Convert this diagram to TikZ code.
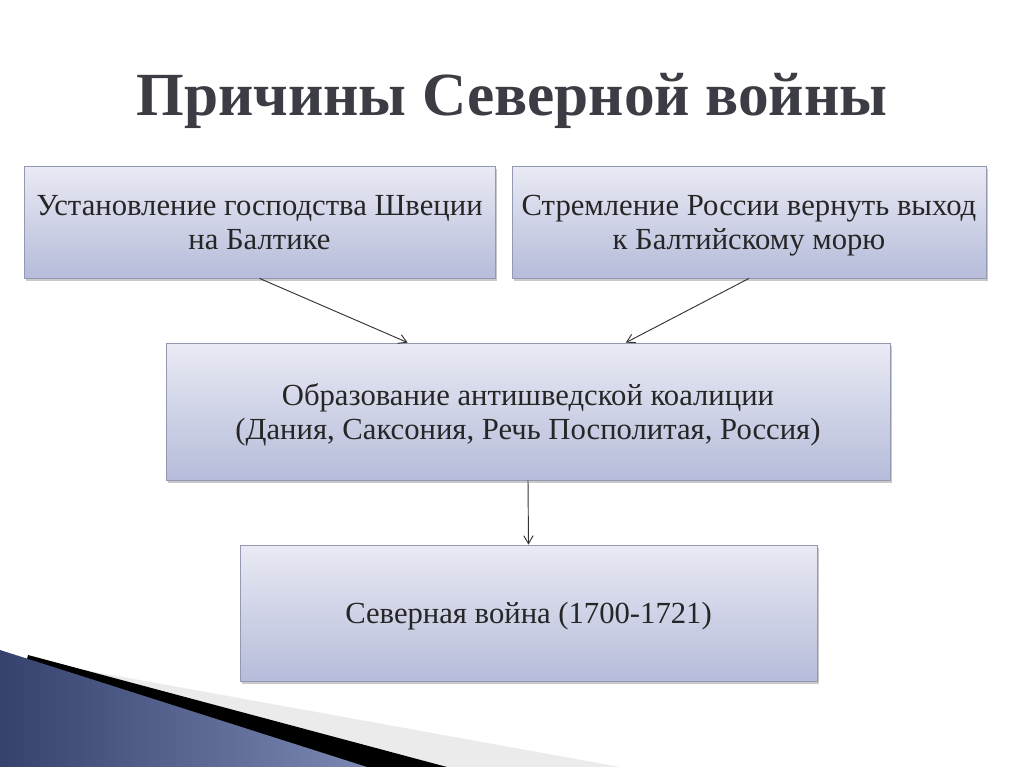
\documentclass[tikz,border=0pt]{standalone}
\usepackage{fontspec}
\setmainfont{Liberation Serif}
\usetikzlibrary{shadows,calc,arrows.meta}
\definecolor{boxtop}{HTML}{E9EAF4}
\definecolor{boxbot}{HTML}{B6BCDA}
\definecolor{boxline}{HTML}{9499B2}
\definecolor{txt}{HTML}{262626}
\definecolor{ttl}{HTML}{3C3C44}
\definecolor{bluedark}{HTML}{36426E}
\definecolor{bluelight}{HTML}{7C88B4}
\newcommand{\boxtext}[1]{\raisebox{-3pt}[\height][\depth]{\begin{tabular}{@{}c@{}}#1\end{tabular}}}
\tikzset{
  causebox/.style={draw=boxline, line width=0.6pt, top color=boxtop, bottom color=boxbot,
    drop shadow={shadow xshift=1.5pt, shadow yshift=-2.5pt, opacity=0.35, fill=black!60},
    inner sep=0pt, text=txt, font=\fontsize{23}{25.5}\selectfont},
  link/.style={draw=black!80, line width=0.7pt, -{Straight Barb[length=6pt,width=7pt]}}
}
\begin{document}
\begin{tikzpicture}[x=0.75pt,y=-0.75pt]
\useasboundingbox[fill=white] (0,0) rectangle (1024,767);
% decoration bottom-left
\fill[black!8] (40,662) -- (620,767) -- (0,767) -- cycle;
\fill[black] (28,655) -- (447,767) -- (0,767) -- cycle;
\shade[left color=bluedark, right color=bluelight] (0,650) -- (367,767) -- (0,767) -- cycle;
% title
\node (title) [text=ttl, font=\bfseries\fontsize{46}{50}\selectfont] at (512,101)
  {Причины Северной войны};
% boxes
\node (A) [causebox, minimum width=353.25pt, minimum height=84pt] at (259.5,222)
  {\boxtext{Установление господства Швеции\\на Балтике}};
\node (B) [causebox, minimum width=355.5pt, minimum height=84pt] at (749,222)
  {\boxtext{Стремление России вернуть выход\\к Балтийскому морю}};
\node (C) [causebox, minimum width=543pt, minimum height=102.75pt] at (528,411.5)
  {\boxtext{Образование антишведской коалиции\\(Дания, Саксония, Речь Посполитая, Россия)}};
\node (D) [causebox, minimum width=432.75pt, minimum height=102pt] at (528.5,613)
  {\boxtext{Северная война (1700-1721)}};
% connectors
\draw[link] (A.south) -- ($(C.north west)!0.334!(C.north east)$);
\draw[link] (B.south) -- ($(C.north west)!0.635!(C.north east)$);
\draw[link] (C.south) -- (D.north);
\end{tikzpicture}
\end{document}
